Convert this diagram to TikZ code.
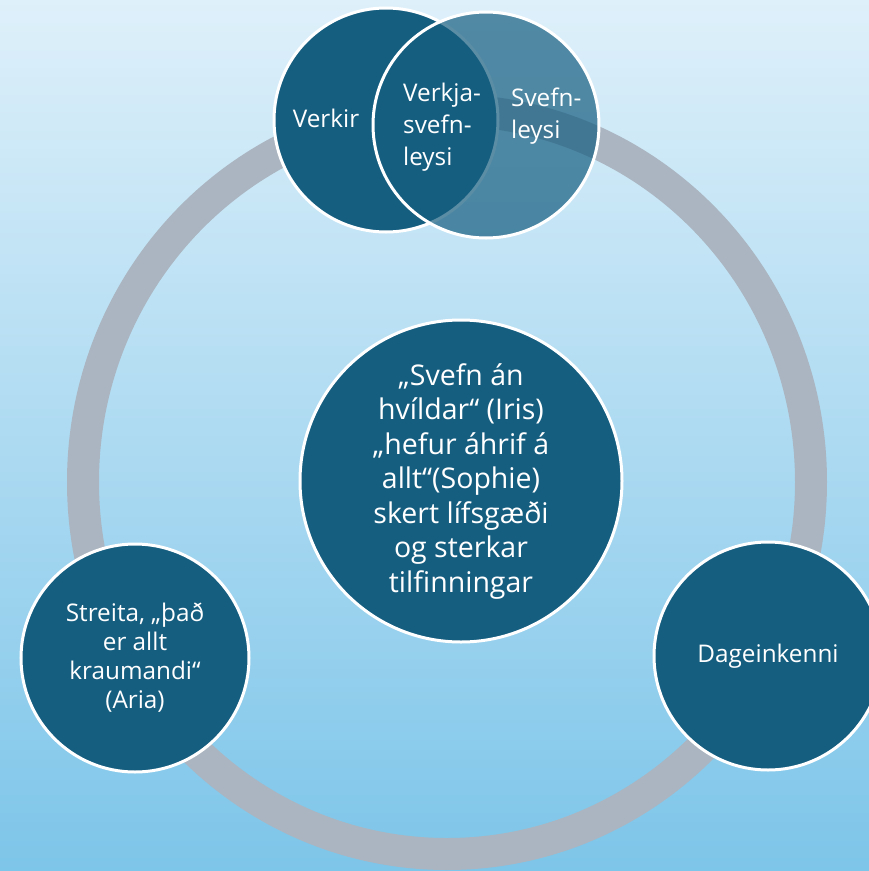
\documentclass[tikz,border=0pt]{standalone}
\usepackage{fontspec}
\setmainfont{Open Sans}
\definecolor{deepblue}{HTML}{165E80}
\definecolor{ringgray}{HTML}{AAB5C1}
\definecolor{skytop}{HTML}{DEF0FA}
\definecolor{skybottom}{HTML}{7DC5E9}
\begin{document}
\begin{tikzpicture}[x=1pt,y=-1pt,
    bubble/.style={circle,fill=deepblue,draw=white,line width=3pt,inner sep=0pt},
    words/.style={text=white,inner sep=0pt,font=\fontsize{24.3}{32}\selectfont}]
    \clip(0,0)rectangle(869,871);
    \shade[top color=skytop,bottom color=skybottom](0,0)rectangle(869,871);
    \draw[ringgray,line width=32pt](447,482)ellipse[x radius=364,y radius=372];
    \node[bubble,minimum size=322pt,words,align=center,font=\fontsize{28.5}{34.5}\selectfont](core)at(461,481){„Svefn án\\hvíldar“ (Iris)\\„hefur áhrif á\\allt“(Sophie)\\skert lífsgæði\\og sterkar\\tilfinningar};
    \node[bubble,minimum size=228pt,words,align=center,font=\fontsize{24.3}{29}\selectfont](stress)at(135,658){Streita, „það\\er allt\\kraumandi“\\(Aria)};
    \node[bubble,minimum size=228pt,words](daytime)at(768,656){Dageinkenni};
    \node[bubble,minimum size=224pt](pain)at(386,120){};
    \node[bubble,minimum size=226pt,fill opacity=0.7,draw opacity=1](sleep)at(486,125){};
    \node[words](paintext)at(326,118){Verkir};
    \node[words,align=left,anchor=west](bothtext)at(403,127){Verkja-\\svefn-\\leysi};
    \node[words,align=left,anchor=west](sleeptext)at(511,116){Svefn-\\leysi};
\end{tikzpicture}
\end{document}
